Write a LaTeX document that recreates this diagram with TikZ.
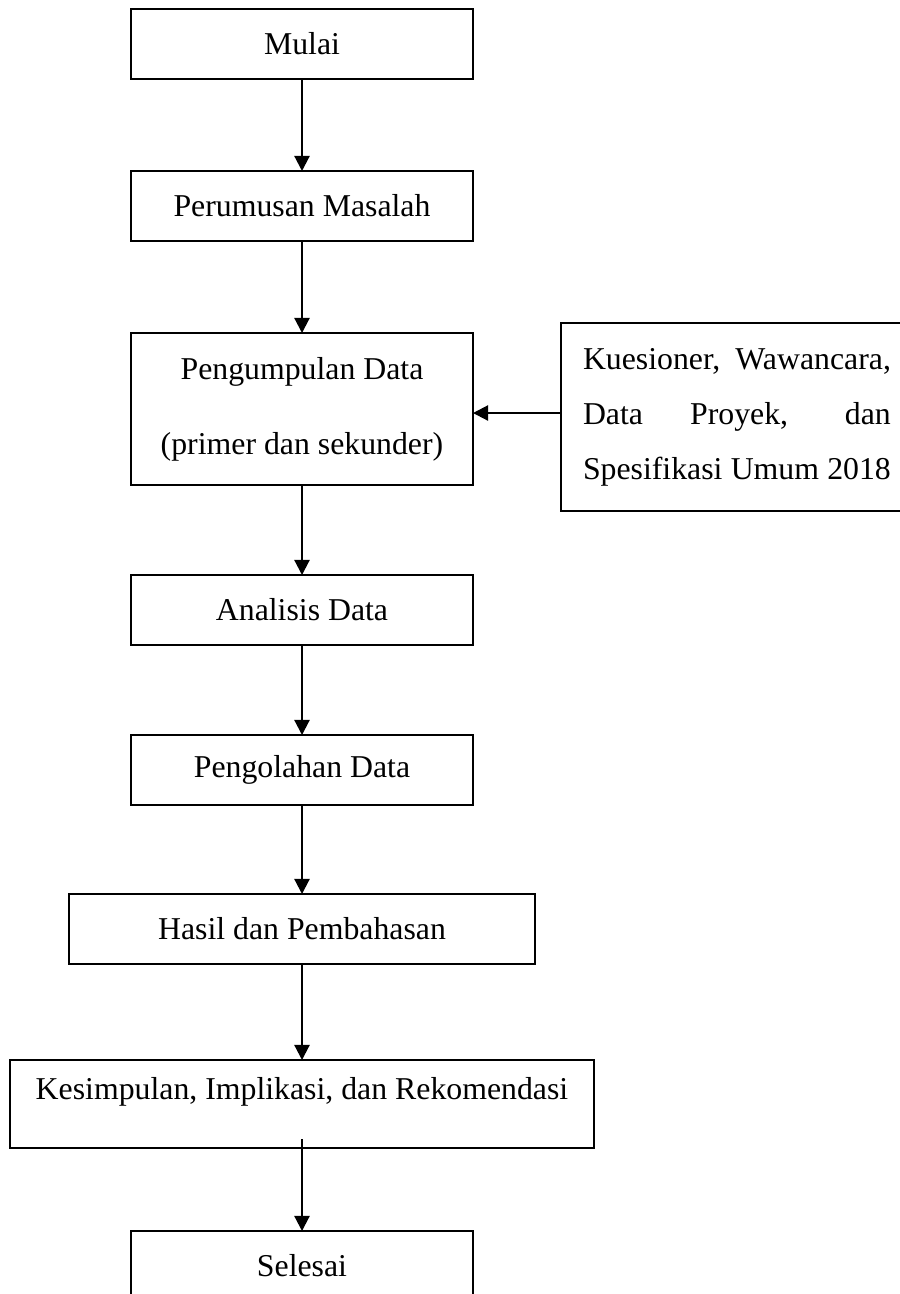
\documentclass[tikz,border=0pt]{standalone}
\usepackage{fontspec}
\setmainfont{Liberation Serif}
\usetikzlibrary{positioning,arrows.meta}

\newcommand{\px}{0.3774pt}

\begin{document}
\begin{tikzpicture}[x=\px,y=-\px,
  kotak/.style={draw,rectangle,line width=0.6pt,minimum width=342*\px,
    minimum height=70*\px,inner sep=0pt,outer sep=0pt,align=center,
    font=\fontsize{12}{14.5}\selectfont},
  panah/.style={-{Triangle[length=5.7pt,width=5.7pt]},line width=0.8pt}]
\useasboundingbox (0,0) rectangle (900,1294);

\node[kotak] (mulai) at (302,44) {Mulai};
\node[kotak,below=92*\px of mulai] (perumusan) {Perumusan Masalah};
\node[kotak,below=92*\px of perumusan,minimum height=152*\px,
  font=\fontsize{12}{28.3}\selectfont] (pengumpulan)
  {Pengumpulan Data\\(primer dan sekunder)};
\node[kotak,right=88*\px of pengumpulan,yshift=-8*\px,minimum width=0pt,
  minimum height=188*\px,inner xsep=22*\px,align=left,
  font=\fontsize{12}{20.8}\selectfont] (kuesioner)
  {\makebox[116.2pt][s]{Kuesioner, Wawancara,}\\
   \makebox[116.2pt][s]{Data Proyek, dan}\\
   \makebox[116.2pt][s]{Spesifikasi Umum 2018}};
\node[kotak,below=90*\px of pengumpulan] (analisis) {Analisis Data};
\node[kotak,below=90*\px of analisis] (pengolahan) {Pengolahan Data};
\node[kotak,below=89*\px of pengolahan,minimum width=466*\px] (hasil)
  {Hasil dan Pembahasan};
\node[kotak,below=96*\px of hasil,minimum width=584*\px,
  minimum height=88*\px,text depth=12pt] (kesimpulan)
  {Kesimpulan, Implikasi, dan Rekomendasi};
\node[kotak,below=83*\px of kesimpulan] (selesai) {Selesai};

% alur utama
\draw[panah] (mulai) -- (perumusan);
\draw[panah] (perumusan) -- (pengumpulan);
\draw[panah] (pengumpulan) -- (analisis);
\draw[panah] (analisis) -- (pengolahan);
\draw[panah] (pengolahan) -- (hasil);
\draw[panah] (hasil) -- (kesimpulan);
\draw[panah] ([yshift=9*\px]kesimpulan.south) -- (selesai);

% sumber data
\draw[panah] ([yshift=4*\px]kuesioner.west) -- ([yshift=4*\px]kuesioner.west -| pengumpulan.east);
\end{tikzpicture}
\end{document}
